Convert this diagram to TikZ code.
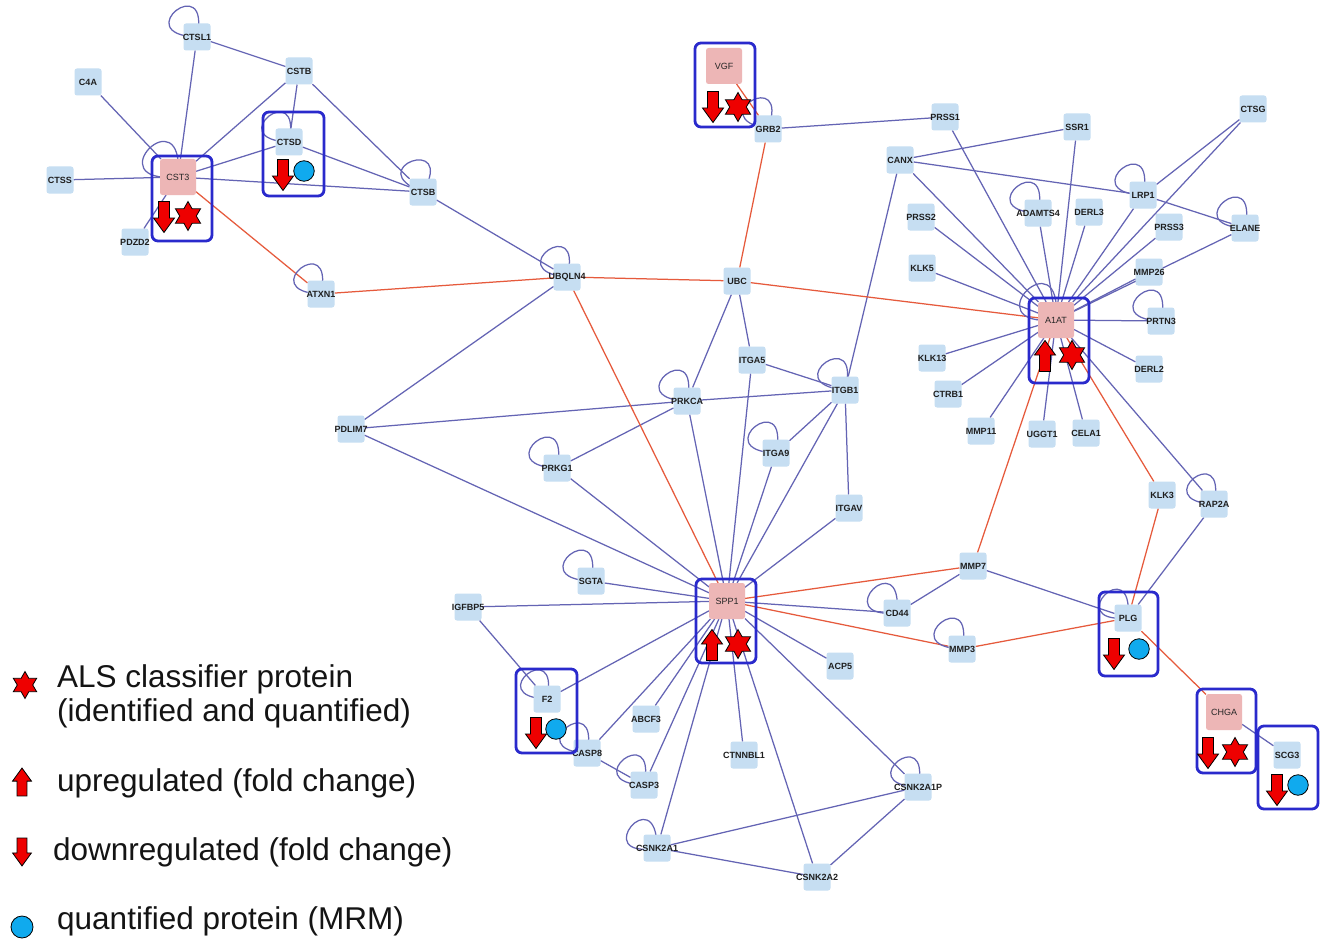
\documentclass[tikz,border=0pt]{standalone}
\usepackage{fontspec}
\setmainfont{Liberation Sans}
\usetikzlibrary{shapes.geometric}
\pgfdeclarelayer{background}
\pgfsetlayers{background,main}
\definecolor{nodeblue}{HTML}{C6DEF2}
\definecolor{nodepink}{HTML}{EDB6B6}
\definecolor{edgeblue}{HTML}{6464B4}
\definecolor{edgered}{HTML}{E65A3C}
\definecolor{boxblue}{HTML}{2A2ACC}
\definecolor{symred}{HTML}{EE0000}
\definecolor{symcyan}{HTML}{10AAEE}
\tikzset{
 pn/.style={rectangle, rounded corners=2.5pt, fill=nodeblue, minimum width=27pt, minimum height=27pt, inner sep=0pt, outer sep=0pt},
 pk/.style={pn, fill=nodepink, minimum width=36pt, minimum height=36pt},
 lbl/.style={inner sep=0pt, font=\fontsize{9}{9}\selectfont\bfseries, text=black!88},
 lblp/.style={inner sep=0pt, font=\fontsize{9}{9}\selectfont, text=black!85},
 eb/.style={draw=edgeblue, line width=1.25pt},
 er/.style={draw=edgered, line width=1.25pt},
 hbox/.style={draw=boxblue, line width=2.8pt, rounded corners=6pt},
 stars/.style={star, star points=6, star point ratio=1.75, fill=symred, draw=black, line width=0.8pt, minimum size=29pt, inner sep=0pt},
 qcirc/.style={circle, fill=symcyan, draw=black, line width=0.8pt, minimum size=20.5pt, inner sep=0pt},
 legtext/.style={anchor=base west, inner sep=0pt, font=\fontsize{31.5}{34}\selectfont, text=black!92},
 darr/.pic={\draw[fill=symred, draw=black, line width=0.8pt] (-5.5,-15.5) -- (5.5,-15.5) -- (5.5,1) -- (10.5,1) -- (0,15.5) -- (-10.5,1) -- (-5.5,1) -- cycle;},
 uarr/.pic={\draw[fill=symred, draw=black, line width=0.8pt] (-5.5,15.5) -- (5.5,15.5) -- (5.5,-1) -- (10.5,-1) -- (0,-15.5) -- (-10.5,-1) -- (-5.5,-1) -- cycle;},
}
\newcommand\protnode[3]{\node[pn,label={[lbl]center:#1}] (#1) at (#2,#3) {};}
\newcommand\pinknode[3]{\node[pk,label={[lblp]center:#1}] (#1) at (#2,#3) {};}
\newcommand\selfloop[3][232]{\draw[eb] (#2.center) .. controls +(#1-50:#3) and +(#1+50:#3) .. (#2.center);}
\begin{document}
\begin{tikzpicture}[x=1pt,y=-1pt]
\path[use as bounding box] (0,0) rectangle (1320,939);
% ---- nodes ----
\protnode{CTSL1}{197}{37}
\protnode{C4A}{88}{82}
\protnode{CSTB}{299}{71}
\protnode{CTSD}{289}{142}
\protnode{CTSS}{60}{180}
\pinknode{CST3}{178}{177}
\protnode{PDZD2}{135}{242}
\protnode{CTSB}{423}{192}
\protnode{ATXN1}{321}{294}
\protnode{UBQLN4}{567}{277}
\pinknode{VGF}{724}{66}
\protnode{GRB2}{768}{129}
\protnode{UBC}{737}{281}
\protnode{PRSS1}{945}{117}
\protnode{SSR1}{1077}{127}
\protnode{CTSG}{1253}{109}
\protnode{CANX}{900}{160}
\protnode{LRP1}{1143}{195}
\protnode{ADAMTS4}{1038}{213}
\protnode{DERL3}{1089}{212}
\protnode{PRSS2}{921}{217}
\protnode{PRSS3}{1169}{227}
\protnode{ELANE}{1245}{228}
\protnode{KLK5}{922}{268}
\protnode{MMP26}{1149}{272}
\pinknode{A1AT}{1056}{320}
\protnode{PRTN3}{1161}{321}
\protnode{KLK13}{932}{358}
\protnode{DERL2}{1149}{369}
\protnode{CTRB1}{948}{394}
\protnode{MMP11}{981}{431}
\protnode{UGGT1}{1042}{434}
\protnode{CELA1}{1086}{433}
\protnode{ITGA5}{752}{360}
\protnode{PRKCA}{687}{401}
\protnode{ITGB1}{845}{390}
\protnode{PDLIM7}{351}{429}
\protnode{PRKG1}{557}{468}
\protnode{ITGA9}{776}{453}
\protnode{ITGAV}{849}{508}
\protnode{KLK3}{1162}{495}
\protnode{RAP2A}{1214}{504}
\protnode{MMP7}{973}{566}
\protnode{SGTA}{591}{581}
\pinknode{SPP1}{727}{601}
\protnode{IGFBP5}{468}{607}
\protnode{CD44}{897}{613}
\protnode{PLG}{1128}{618}
\protnode{MMP3}{962}{649}
\protnode{ACP5}{840}{666}
\protnode{F2}{547}{699}
\protnode{ABCF3}{646}{719}
\pinknode{CHGA}{1224}{712}
\protnode{CASP8}{587}{753}
\protnode{CTNNBL1}{744}{755}
\protnode{SCG3}{1287}{755}
\protnode{CASP3}{644}{785}
\protnode{CSNK2A1P}{918}{787}
\protnode{CSNK2A1}{657}{848}
\protnode{CSNK2A2}{817}{877}
% ---- edges ----
\begin{pgfonlayer}{background}
\fill[white] (0,0) rectangle (1320,939);
% blue edges
\foreach \a/\b in {CTSL1/CSTB, CTSL1/CST3, C4A/CST3, CTSS/CST3, CST3/CSTB, CST3/CTSD, CST3/CTSB, CST3/PDZD2,
  CSTB/CTSD, CSTB/CTSB, CTSD/CTSB, CTSB/UBQLN4, UBQLN4/PDLIM7, GRB2/PRSS1, UBC/PRKCA, UBC/ITGA5,
  PRSS1/A1AT, CANX/SSR1, CANX/LRP1, CANX/A1AT, CANX/ITGB1, SSR1/A1AT, CTSG/LRP1, CTSG/A1AT,
  LRP1/ELANE, LRP1/A1AT, ELANE/A1AT, MMP26/A1AT, ADAMTS4/A1AT, DERL3/A1AT, PRSS2/A1AT, PRSS3/A1AT,
  KLK5/A1AT, PRTN3/A1AT, KLK13/A1AT, CTRB1/A1AT, MMP11/A1AT, UGGT1/A1AT, CELA1/A1AT, DERL2/A1AT, RAP2A/A1AT,
  PDLIM7/PRKCA, PRKCA/ITGB1, PDLIM7/SPP1, PRKCA/PRKG1, PRKCA/SPP1, PRKG1/SPP1, ITGA5/ITGB1, ITGA5/SPP1,
  ITGB1/ITGA9, ITGB1/SPP1, ITGB1/ITGAV, ITGA9/SPP1, ITGAV/SPP1, SGTA/SPP1, IGFBP5/SPP1, IGFBP5/F2,
  F2/SPP1, ABCF3/SPP1, CASP8/SPP1, CASP3/SPP1, CSNK2A1/SPP1, CTNNBL1/SPP1, CSNK2A2/SPP1, CSNK2A1P/SPP1,
  ACP5/SPP1, CD44/SPP1, CASP8/CASP3, CSNK2A1/CSNK2A1P, CSNK2A1/CSNK2A2, CSNK2A2/CSNK2A1P,
  MMP7/CD44, MMP7/PLG, PLG/RAP2A, CHGA/SCG3}
  {\draw[eb] (\a) -- (\b);}
% red edges
\foreach \a/\b in {CST3/ATXN1, ATXN1/UBQLN4, UBQLN4/UBC, UBQLN4/SPP1, VGF/GRB2, GRB2/UBC, UBC/A1AT,
  A1AT/MMP7, A1AT/KLK3, MMP7/SPP1, MMP3/SPP1, MMP3/PLG, KLK3/PLG, PLG/CHGA}
  {\draw[er] (\a) -- (\b);}
% self loops
\selfloop{CTSL1}{70}
\selfloop[225]{CST3}{84}
\selfloop{CTSD}{68}
\selfloop[250]{CTSB}{68}
\selfloop{ATXN1}{68}
\selfloop[235]{UBQLN4}{68}
\selfloop[240]{GRB2}{68}
\selfloop{ADAMTS4}{70}
\selfloop{LRP1}{70}
\selfloop{ELANE}{70}
\selfloop{PRTN3}{70}
\selfloop[225]{A1AT}{86}
\selfloop{PRKCA}{70}
\selfloop[235]{ITGB1}{70}
\selfloop{ITGA9}{70}
\selfloop{PRKG1}{70}
\selfloop{SGTA}{70}
\selfloop[225]{CD44}{70}
\selfloop{MMP3}{70}
\selfloop[225]{PLG}{68}
\selfloop{RAP2A}{68}
\selfloop{F2}{66}
\selfloop{CASP8}{68}
\selfloop{CASP3}{68}
\selfloop[220]{CSNK2A1}{70}
\selfloop{CSNK2A1P}{68}
\end{pgfonlayer}
% ---- highlight boxes ----
\draw[hbox] (152,156) rectangle (212,241);
\draw[hbox] (263,112) rectangle (324,196);
\draw[hbox] (695,43) rectangle (755,127);
\draw[hbox] (1029,298) rectangle (1089,383);
\draw[hbox] (696,579) rectangle (756,663);
\draw[hbox] (516,669) rectangle (577,753);
\draw[hbox] (1099,592) rectangle (1158,676);
\draw[hbox] (1197,689) rectangle (1256,773);
\draw[hbox] (1258,726) rectangle (1318,809);
% ---- symbols ----
\pic at (164,217) {darr};
\node[stars] (starCST3) at (188,216) {};
\pic at (283,175) {darr};
\node[qcirc] (circCTSD) at (304,171) {};
\pic at (713,107) {darr};
\node[stars] (starVGF) at (738,107) {};
\pic at (1045,356) {uarr};
\node[stars] (starA1AT) at (1072,355) {};
\pic at (712,645) {uarr};
\node[stars] (starSPP1) at (738,644) {};
\pic at (536,733) {darr};
\node[qcirc] (circF2) at (556,729) {};
\pic at (1114,654) {darr};
\node[qcirc] (circPLG) at (1139,649) {};
\pic at (1208,753) {darr};
\node[stars] (starCHGA) at (1235,752) {};
\pic at (1277,790) {darr};
\node[qcirc] (circSCG3) at (1298,785) {};
% ---- legend ----
\node[stars, minimum size=27pt] (legstar) at (25,685) {};
\node[legtext] (leg1a) at (57,687) {ALS classifier protein};
\node[legtext] (leg1b) at (57,721) {(identified and quantified)};
\pic[scale=0.9] at (22,782) {uarr};
\node[legtext] (leg2) at (57,791) {upregulated (fold change)};
\pic[scale=0.9] at (22,852) {darr};
\node[legtext] (leg3) at (53,860) {downregulated (fold change)};
\node[qcirc, minimum size=22pt] (legcirc) at (22,927) {};
\node[legtext] (leg4) at (57,929) {quantified protein (MRM)};
\end{tikzpicture}
\end{document}
